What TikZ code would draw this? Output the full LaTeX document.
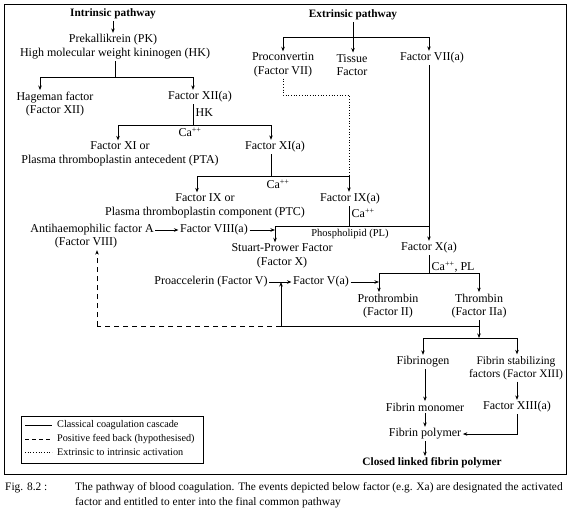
\documentclass[tikz,border=0pt]{standalone}
\usepackage{fontspec}
\setmainfont{Liberation Serif}
\usetikzlibrary{arrows.meta}
\newcommand{\capp}{Ca\textsuperscript{++}}
\begin{document}
\begin{tikzpicture}[x=1pt,y=-1pt,
  lbl/.style={inner sep=1.5pt, font=\fontsize{12}{13.5}\selectfont, align=center},
  bld/.style={lbl, font=\fontsize{11.3}{13.5}\selectfont\bfseries},
  sml/.style={inner sep=1pt, font=\fontsize{10.5}{12}\selectfont},
  lgd/.style={inner sep=1pt, font=\fontsize{10.2}{12}\selectfont, anchor=west},
  captxt/.style={inner sep=0pt, font=\fontsize{11.4}{13}\selectfont, anchor=west},
  ln/.style={line width=0.8pt},
  arr/.style={ln, -{Stealth[length=4.5pt,width=3.5pt]}},
  fb/.style={ln, dashed, dash pattern=on 5pt off 4pt},
  dotl/.style={line width=0.7pt, dotted},
]
\useasboundingbox (0,0) rectangle (572,515);
\draw[line width=0.9pt] (4,4) rectangle (566,474);

% ---- intrinsic
\node[bld] (intr) at (113,14) {Intrinsic pathway};
\node[lbl] (pk) at (113,40) {Prekallikrein (PK)};
\node[lbl] (hk) at (115,54) {High molecular weight kininogen (HK)};
\node[lbl] (hag) at (55,104) {Hageman factor\\(Factor XII)};
\node[lbl] (f12a) at (200,97) {Factor XII(a)};
\node[lbl] (f11) at (120,154) {Factor XI or\\Plasma thromboplastin antecedent (PTA)};
\node[lbl] (f11a) at (275,147) {Factor XI(a)};
\node[lbl] (f9) at (205,206) {Factor IX or\\Plasma thromboplastin component (PTC)};
\node[lbl] (f9a) at (350,199) {Factor IX(a)};
\node[lbl] (ahf) at (92,230) {Antihaemophilic factor A};
\node[lbl] (ahf2) at (86,243) {(Factor VIII)};
\node[lbl] (f8a) at (214,230) {Factor VIII(a)};
\node[lbl] (spf) at (282,256) {Stuart-Prower Factor\\(Factor X)};
\node[lbl] (proac) at (211,282) {Proaccelerin (Factor V)};
\node[lbl] (f5a) at (321,282) {Factor V(a)};

% ---- extrinsic
\node[bld] (extr) at (353,15) {Extrinsic pathway};
\node[lbl] (procon) at (283,65) {Proconvertin\\(Factor VII)};
\node[lbl] (tissue) at (352,65) {Tissue\\Factor};
\node[lbl] (f7a) at (432,58) {Factor VII(a)};
\node[lbl] (f10a) at (429,248) {Factor X(a)};
\node[lbl] (proth) at (388,306) {Prothrombin\\(Factor II)};
\node[lbl] (thromb) at (479,306) {Thrombin\\(Factor IIa)};
\node[lbl] (fbg) at (423,362) {Fibrinogen};
\node[lbl, font=\fontsize{11.5}{13.5}\selectfont] (fsf) at (516,368) {Fibrin stabilizing\\factors (Factor XIII)};
\node[lbl] (fmon) at (425,407) {Fibrin monomer};
\node[lbl] (f13a) at (517,407) {Factor XIII(a)};
\node[lbl] (fpol) at (425,434) {Fibrin polymer};
\node[bld] (clfp) at (432,463) {Closed linked fibrin polymer};

% ---- small labels
\node[lbl, anchor=west] (lhk) at (194,113) {HK};
\node[lbl] (ca1) at (190,132) {\capp};
\node[lbl] (ca2) at (278,184) {\capp};
\node[lbl, anchor=west] (ca3) at (350,213) {\capp};
\node[sml] (pl) at (350,234) {Phospholipid (PL)};
\node[lbl, anchor=west] (ca4) at (430,267) {\capp, PL};

% ---- junction coordinates
\coordinate (j1) at (115,77);
\coordinate (j1l) at (40,77);
\coordinate (j1r) at (193,77);
\coordinate (j2) at (193,125);
\coordinate (j2l) at (118,125);
\coordinate (j2r) at (271,125);
\coordinate (j3) at (271,176);
\coordinate (j3l) at (197,176);
\coordinate (j3r) at (349,176);
\coordinate (d1) at (283,95);
\coordinate (d2) at (349,95);
\coordinate (j4) at (349,226);
\coordinate (j4l) at (275,226);
\coordinate (j4r) at (429,226);
\coordinate (e1) at (353,37);
\coordinate (e1l) at (283,37);
\coordinate (e1r) at (429,37);
\coordinate (j5) at (429,273);
\coordinate (j5l) at (379,273);
\coordinate (j5r) at (479,273);
\coordinate (j6) at (479,338);
\coordinate (j6l) at (423,338);
\coordinate (j6r) at (517,338);
\coordinate (fbr) at (479,326);
\coordinate (fbm) at (281,326);
\coordinate (fbl) at (97,326);
\coordinate (pa) at (281,282);

% ---- intrinsic connectors
\draw[arr] (intr) -- (pk);
\draw[ln] (hk.south -| j1) -- (j1);
\draw[ln] (j1l) -- (j1r);
\draw[arr] (j1l) -- (j1l |- hag.north);
\draw[arr] (j1r) -- (j1r |- f12a.north);
\draw[ln] (f12a.south -| j2) -- (j2);
\draw[ln] (j2l) -- (j2r);
\draw[arr] (j2l) -- (j2l |- f11.north);
\draw[arr] (j2r) -- (j2r |- f11a.north);
\draw[ln] (f11a.south -| j3) -- (j3);
\draw[ln] (j3l) -- (j3r);
\draw[arr] (j3l) -- (j3l |- f9.north);
\draw[arr] (j3r) -- (j3r |- f9a.north);
\draw[ln] (f9a.south -| j4) -- (j4);
\draw[ln] (j4l) -- (j4r);
\draw[arr] (j4l) -- (j4l |- spf.north);
\draw[arr] (ahf) -- (f8a);
\draw[arr] (f8a.east) -- (f8a.east -| j4l);

% ---- extrinsic connectors
\draw[ln] (extr.south -| e1) -- (e1);
\draw[ln] (e1l) -- (e1r);
\draw[arr] (e1l) -- (e1l |- procon.north);
\draw[arr] (e1) -- (e1 |- tissue.north);
\draw[arr] (e1r) -- (e1r |- f7a.north);
\draw[dotl] (procon.south -| d1) -- (d1) -- (d2) -- (j3r);
\draw[arr] (f7a.south -| j4r) -- (j4r |- f10a.north);

% ---- common pathway
\draw[ln] (f10a.south -| j5) -- (j5);
\draw[ln] (j5l) -- (j5r);
\draw[arr] (j5l) -- (j5l |- proth.north);
\draw[arr] (j5r) -- (j5r |- thromb.north);
\draw[arr] (proac.east) -- (f5a.west);
\draw[arr] (f5a.east) -- (f5a.east -| j5l);
\draw[arr] (thromb.south -| j6) -- (j6);
\draw[ln] (j6l) -- (j6r);
\draw[arr] (j6l) -- (j6l |- fbg.north);
\draw[arr] (j6r) -- (j6r |- fsf.north);
\draw[arr] (fbg.south -| fmon) -- (fmon.north);
\draw[arr] (fsf.south -| f13a) -- (f13a.north);
\draw[arr] (fmon) -- (fpol);
\draw[arr] (f13a.south) |- (fpol.east);
\draw[arr] (fpol) -- (fpol |- clfp.north);

% ---- feedback
\draw[ln] (fbr) -- (fbm);
\draw[arr] (fbm) -- (pa);
\draw[fb] (fbm) -- (fbl);
\draw[fb, -{Stealth[length=4.5pt,width=3.5pt]}] (fbl) -- (fbl |- ahf2.south);

% ---- legend
\draw[line width=0.8pt] (21,416) rectangle (203,463);
\coordinate (lg1a) at (25,425); \coordinate (lg1b) at (52,425);
\coordinate (lg2a) at (25,439); \coordinate (lg2b) at (52,439);
\coordinate (lg3a) at (25,452); \coordinate (lg3b) at (52,452);
\draw[ln] (lg1a) -- (lg1b);
\draw[fb, dash pattern=on 4pt off 3pt] (lg2a) -- (lg2b);
\draw[dotl] (lg3a) -- (lg3b);
\node[lgd] (lt1) at (56,425) {Classical coagulation cascade};
\node[lgd] (lt2) at (56,439) {Positive feed back (hypothesised)};
\node[lgd] (lt3) at (56,452) {Extrinsic to intrinsic activation};

% ---- caption
\node[captxt] (fig) at (5,488) {Fig. 8.2 :};
\node[captxt] (c1) at (75,488) {The pathway of blood coagulation. The events depicted below factor (e.g. Xa) are designated the activated};
\node[captxt] (c2) at (75,503) {factor and entitled to enter into the final common pathway};
\end{tikzpicture}
\end{document}
